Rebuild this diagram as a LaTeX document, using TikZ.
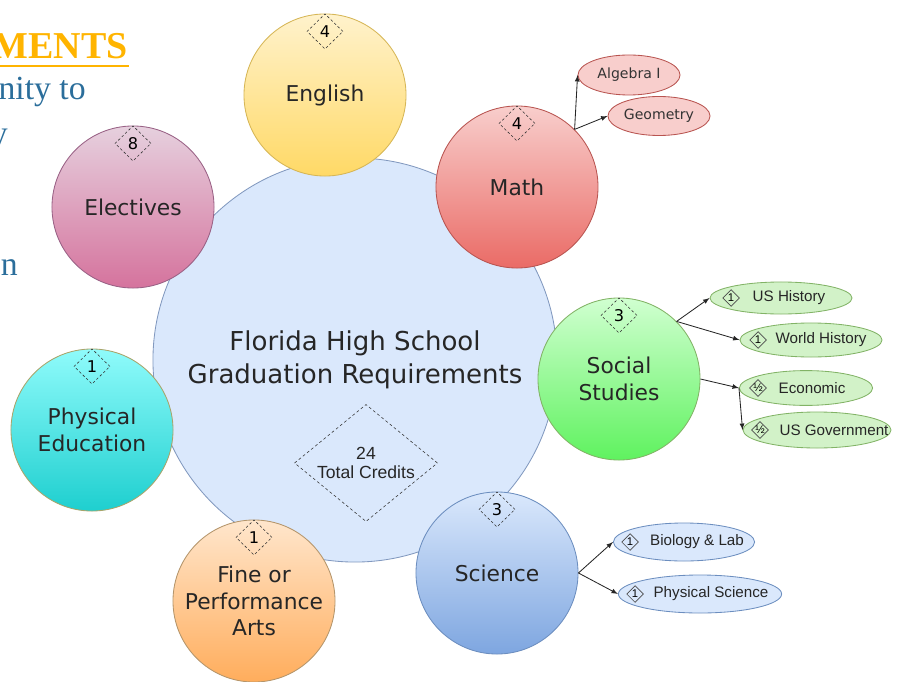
\documentclass[tikz,border=0pt]{standalone}
\usepackage{fontspec}
\setmainfont{DejaVu Sans}
\newfontfamily\arialfont{Liberation Sans}
\newfontfamily\timesfont{Liberation Serif}
\usepackage{tikz}
\usetikzlibrary{shapes, calc}

\definecolor{slidegold}{HTML}{FFB400}
\definecolor{slideblue}{HTML}{2B6E9B}
\definecolor{gradfill}{HTML}{DAE8FC}
\definecolor{gradline}{HTML}{8299BF}
\definecolor{engtop}{HTML}{FFF2CC}
\definecolor{engbot}{HTML}{FFD966}
\definecolor{engline}{HTML}{D6B656}
\definecolor{electop}{HTML}{E6D0DE}
\definecolor{elecbot}{HTML}{D5739D}
\definecolor{elecline}{HTML}{996185}
\definecolor{mathtop}{HTML}{F8CECC}
\definecolor{mathbot}{HTML}{EA6B66}
\definecolor{mathline}{HTML}{B85450}
\definecolor{soctop}{HTML}{D0FFD0}
\definecolor{socbot}{HTML}{5FF25F}
\definecolor{socline}{HTML}{82B366}
\definecolor{socsub}{HTML}{D2F2C8}
\definecolor{scitop}{HTML}{DAE8FC}
\definecolor{scibot}{HTML}{7EA6E0}
\definecolor{sciline}{HTML}{6C8EBF}
\definecolor{artstop}{HTML}{FFE6CC}
\definecolor{artsbot}{HTML}{FFAD5C}
\definecolor{artsline}{HTML}{B4956B}
\definecolor{petop}{HTML}{8FFBFB}
\definecolor{pebot}{HTML}{1ECFCF}
\definecolor{peline}{HTML}{A9A46A}

\begin{document}
\begin{tikzpicture}[x=0.025cm, y=-0.025cm,
        every path/.style={>=latex},
        subject/.style={circle, line width=0.6pt, minimum size=4.05cm, inner sep=0pt, align=center, text=black!85, font=\fontsize{15.5}{19}\selectfont},
        credit/.style={diamond, draw=black!80, dash pattern=on 1.8pt off 1.6pt, minimum width=0.9cm, minimum height=0.88cm, inner sep=0pt, anchor=north, font=\fontsize{11.5}{12}\selectfont},
        course/.style={ellipse, line width=0.6pt, inner sep=0pt, text=black!80},
        coursetext/.style={inner sep=0pt, text=black!85, font=\arialfont\fontsize{10.8}{12}\selectfont},
        unit/.style={diamond, draw=black!70, line width=0.5pt, minimum size=0.42cm, inner sep=0pt, font=\arialfont\fontsize{8}{8}\selectfont},
        link/.style={->, draw=black!85, line width=0.6pt},
        slide/.style={anchor=base east, inner sep=0pt, text=slideblue, font=\timesfont\fontsize{24}{26}\selectfont}]
    \useasboundingbox (0,0) rectangle (905,682);

    % text of the slide behind
    \node[slide, text=slidegold, font=\timesfont\bfseries\fontsize{27}{30}\selectfont] (ments) at (128,59) {MENTS};
    \draw[slidegold, line width=1.4pt] ([yshift=-5pt]ments.base west) -- ([xshift=1pt, yshift=-5pt]ments.base east);
    \node[slide] (nity) at (86,100) {nity to};
    \node[slide] (ylet) at (8,145) {y};
    \node[slide] (nlet) at (18,275) {n};

    % centre
    \node[circle, draw=gradline, fill=gradfill, line width=0.6pt, minimum size=10.1cm, align=center, text=black!85, font=\fontsize{18.5}{23.5}\selectfont] (grad) at (355,360) {Florida High School\\Graduation Requirements};
    \node[diamond, draw=black!80, dash pattern=on 2pt off 1.8pt, aspect=1.22, inner sep=0pt, minimum width=3.575cm, minimum height=2.925cm, align=center, text=black!85, font=\arialfont\fontsize{12.5}{14}\selectfont] (total) at (366,463) {24\\Total Credits};

    % subjects
    \node[subject, draw=engline, top color=engtop, bottom color=engbot] (eng) at (325,95) {English};
    \node[credit] (engc) at (eng.north) {4};
    \node[subject, draw=elecline, top color=electop, bottom color=elecbot] (elec) at (133,207) {Electives};
    \node[credit] (elecc) at (elec.north) {8};
    \node[subject, draw=mathline, top color=mathtop, bottom color=mathbot] (math) at (517,187) {Math};
    \node[credit] (mathc) at (math.north) {4};
    \node[subject, draw=socline, top color=soctop, bottom color=socbot] (soc) at (619,379) {Social\\Studies};
    \node[credit] (socc) at (soc.north) {3};
    \node[subject, draw=sciline, top color=scitop, bottom color=scibot] (sci) at (497,573) {Science};
    \node[credit] (scic) at (sci.north) {3};
    \node[subject, draw=artsline, top color=artstop, bottom color=artsbot] (arts) at (254,601) {Fine or\\Performance\\Arts};
    \node[credit] (artsc) at (arts.north) {1};
    \node[subject, draw=peline, top color=petop, bottom color=pebot] (pe) at (92,430) {Physical\\Education};
    \node[credit] (pec) at (pe.north) {1};

    % math courses
    \node[course, draw=mathline, fill=mathtop, minimum width=2.55cm, minimum height=1cm, font=\fontsize{10}{12}\selectfont] (alg) at (629,75) {Algebra I};
    \node[course, draw=mathline, fill=mathtop, minimum width=2.55cm, minimum height=0.975cm, font=\fontsize{10}{12}\selectfont] (geo) at (659,116) {Geometry};

    % social studies courses
    \node[course, draw=socline, fill=socsub, minimum width=3.55cm, minimum height=0.8cm] (ush) at (781,298) {};
    \node[unit] (ushu) at (731,298) {1};
    \node[coursetext] (usht) at (789,298) {US History};
    \node[course, draw=socline, fill=socsub, minimum width=3.55cm, minimum height=0.85cm] (wh) at (811,340) {};
    \node[unit] (whu) at (758,340) {1};
    \node[coursetext] (wht) at (821,340) {World History};
    \node[course, draw=socline, fill=socsub, minimum width=3.33cm, minimum height=0.87cm] (eco) at (806,388) {};
    \node[unit] (ecou) at (758,388) {½};
    \node[coursetext] (ecot) at (812,388) {Economic};
    \node[course, draw=socline, fill=socsub, minimum width=3.7cm, minimum height=0.9cm] (usg) at (817,430) {};
    \node[unit] (usgu) at (760,430) {½};
    \node[coursetext] (usgt) at (834,430) {US Government};

    % science courses
    \node[course, draw=sciline, fill=scitop, minimum width=3.53cm, minimum height=0.95cm] (bio) at (684,542) {};
    \node[unit] (biou) at (630,542) {1};
    \node[coursetext] (biot) at (697,542) {Biology \& Lab};
    \node[course, draw=sciline, fill=scitop, minimum width=4.08cm, minimum height=0.95cm] (phy) at (700,594) {};
    \node[unit] (phyu) at (635,594) {1};
    \node[coursetext] (phyt) at (711,594) {Physical Science};

    \draw[link] (math.45) -- (alg.west);
    \draw[link] (math.45) -- (geo.west);
    \draw[link] (soc.45) -- (ush.west);
    \draw[link] (soc.45) -- (wh.west);
    \draw[link] (soc.east) -- (eco.west);
    \draw[link] (eco.west) -- (usg.west);
    \draw[link] (sci.east) -- (bio.west);
    \draw[link] (sci.east) -- (phy.west);
\end{tikzpicture}
\end{document}
